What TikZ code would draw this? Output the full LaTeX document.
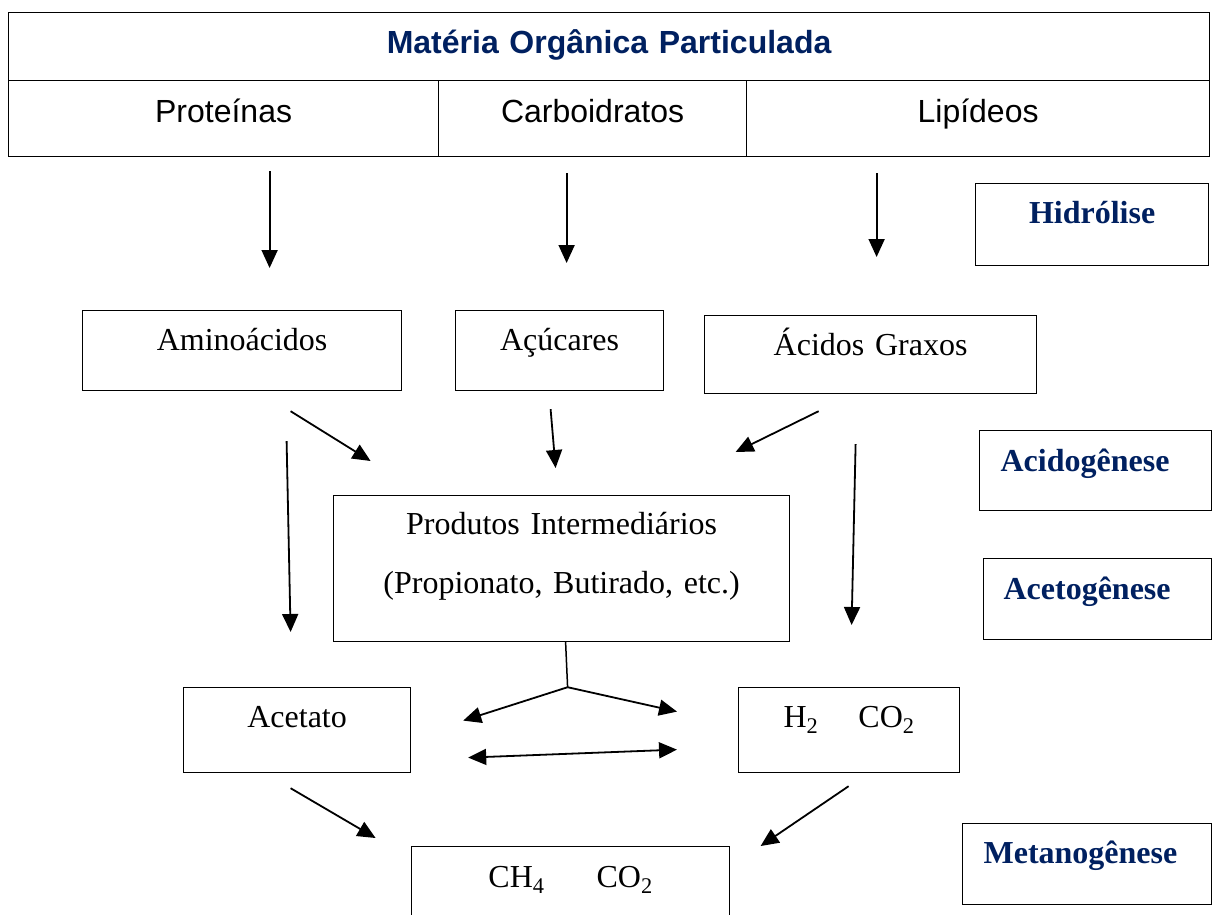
\documentclass[tikz,border=0pt]{standalone}
\usepackage{fontspec}
\setmainfont{Liberation Serif}
\newfontfamily\arialfont{Liberation Sans}
\usetikzlibrary{arrows.meta}
\definecolor{azulescuro}{RGB}{0,32,96}
\tikzset{
caixa/.style={rectangle,draw,line width=1.2pt,inner xsep=0pt,inner ysep=0pt,anchor=north west,align=center,font=\fontsize{32}{38}\selectfont},
tabela/.style={caixa,font=\arialfont\fontsize{32}{38}\selectfont},
etapa/.style={caixa,align=left,text=azulescuro,font=\bfseries\fontsize{32}{38}\selectfont},
seta/.style={line width=1.8pt,->}
}

\begin{document}
\begin{tikzpicture}[x=1pt,y=-1pt,>={Triangle[length=18pt,width=16pt]}]
\useasboundingbox (0,0) rectangle (1212,914);
%tabela de cima
\path (8,12) node(mop)[tabela,text width=1201pt,text height=41pt,text depth=27pt,text=azulescuro,font=\arialfont\bfseries\fontsize{32}{38}\selectfont]{Matéria Orgânica Particulada}
(8,80) node(prot)[tabela,text width=430pt,text height=42pt,text depth=34pt]{Proteínas}
(438,80) node(carb)[tabela,text width=308pt,text height=42pt,text depth=34pt]{Carboidratos}
(746,80) node(lip)[tabela,text width=463pt,text height=42pt,text depth=34pt]{Lipídeos};
%etapas
\path (975,183) node(hidr)[etapa,align=center,text width=233pt,text height=40pt,text depth=42pt]{Hidrólise}
(979,430) node(acidog)[etapa,inner xsep=21pt,text width=190pt,text height=41pt,text depth=39pt]{Acidogênese}
(983,558) node(acetog)[etapa,inner xsep=20pt,text width=188pt,text height=41pt,text depth=40pt]{Acetogênese}
(962,823) node(metan)[etapa,inner xsep=21pt,text width=207pt,text height=40pt,text depth=41pt]{Metanogênese};
%produtos
\path (82,310) node(amino)[caixa,text width=319pt,text height=40pt,text depth=40pt]{Aminoácidos}
(455,310) node(acuc)[caixa,text width=208pt,text height=40pt,text depth=40pt]{Açúcares}
(704,315) node(acid)[caixa,text width=332pt,text height=40pt,text depth=38pt]{Ácidos Graxos}
(333,495) node(prod)[caixa,text width=456pt,text height=39pt,text depth=107pt,font=\fontsize{32}{59}\selectfont]{Produtos Intermediários\\(Propionato, Butirado, etc.)}
(183,687) node(acet)[caixa,text width=227pt,text height=40pt,text depth=45pt]{Acetato}
(738,687) node(hco)[caixa,text width=221pt,text height=40pt,text depth=45pt]{H\textsubscript{2}\hspace{40pt}CO\textsubscript{2}}
(411,846) node(ch4)[caixa,text width=318pt,text height=41pt,text depth=39pt]{CH\textsubscript{4}\hspace{52pt}CO\textsubscript{2}};
%setas
\draw[seta]([shift={(46,14)}]prot.south)--([shift={(27.5,-42)}]amino.north);
\draw[seta]([shift={(-26,16)}]carb.south)--([shift={(7,-47)}]acuc.north);
\draw[seta]([shift={(-101.5,16)}]lip.south)--([shift={(6,-58)}]acid.north);
\draw[seta]([shift={(48.5,20)}]amino.south)--([shift={(-191,-34)}]prod.north);
\draw[seta]([shift={(-9,18)}]acuc.south)--([shift={(-6,-27)}]prod.north);
\draw[seta]([shift={(-52,17)}]acid.south)--([shift={(174,-43)}]prod.north);
\draw[seta]([shift={(44.5,50)}]amino.south)--([shift={(-6.5,-55)}]acet.north);
\draw[seta]([shift={(-15,50)}]acid.south)--([shift={(2.5,-62)}]hco.north);
\coordinate (ramo) at ([shift={(6,45)}]prod.south);
\draw[line width=1.5pt]([shift={(4,0)}]prod.south)--(ramo);
\draw[seta](ramo)--([shift={(52,-9.5)}]acet.east);
\draw[seta](ramo)--([shift={(-61,-18.5)}]hco.west);
\draw[seta,<->]([shift={(57,27.5)}]acet.east)--([shift={(-61,19.5)}]hco.west);
\draw[seta]([shift={(-6.5,15)}]acet.south)--([shift={(-195,-8)}]ch4.north);
\draw[seta]([shift={(-0.5,13)}]hco.south)--([shift={(190,0)}]ch4.north);

\end{tikzpicture}
\end{document}
